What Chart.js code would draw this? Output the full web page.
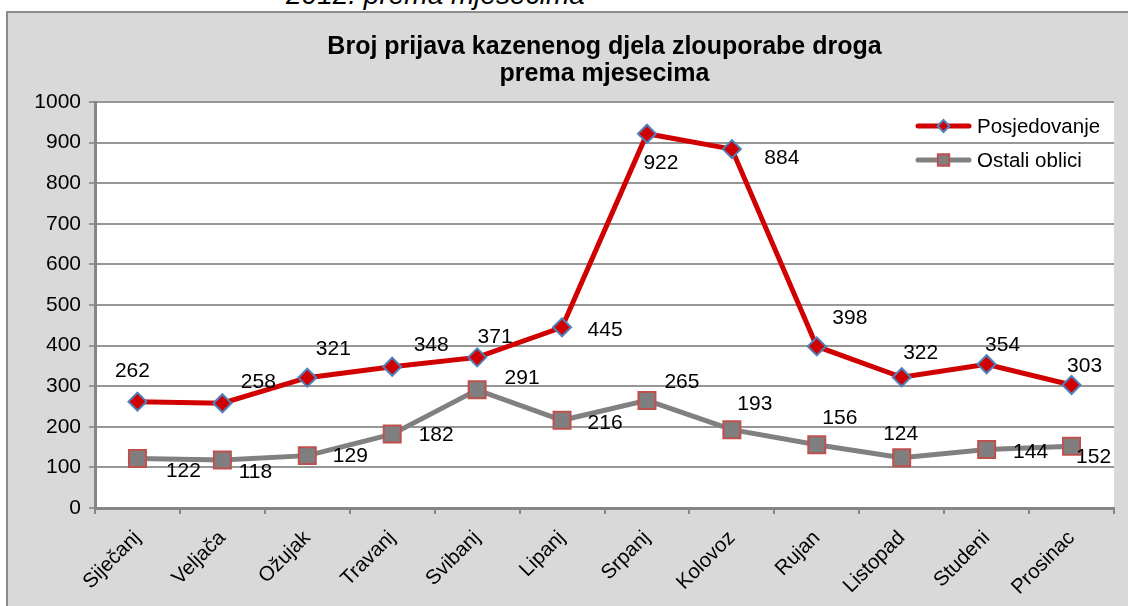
<!DOCTYPE html>
<html>
<head>
<meta charset="utf-8">
<script src="https://cdn.jsdelivr.net/npm/chart.js@4.4.0/dist/chart.umd.min.js"></script>
<style>
html, body { margin:0; padding:0; background:#fff; width:1128px; height:606px; overflow:hidden; }
#caption { position:absolute; left:286px; top:-21px; font: italic 28px "Liberation Sans", Arial, sans-serif; line-height:32px; color:#000; white-space:nowrap; }
#frame { position:absolute; left:6px; top:11px; width:1140px; height:620px; background:#d9d9d9; border:2px solid #8c8c8c; }
#wrap { position:absolute; left:0; top:0; width:1128px; height:606px; }
</style>
</head>
<body>
<div id="caption">2012. prema mjesecima</div>
<div id="frame"></div>
<div id="wrap"><canvas id="lineChart"></canvas></div>
<script>
let months = ['Siječanj', 'Veljača', 'Ožujak', 'Travanj', 'Svibanj', 'Lipanj', 'Srpanj', 'Kolovoz', 'Rujan', 'Listopad', 'Studeni', 'Prosinac'];
let posjedovanje = [262, 258, 321, 348, 371, 445, 922, 884, 398, 322, 354, 303];
let ostaliOblici = [122, 118, 129, 182, 291, 216, 265, 193, 156, 124, 144, 152];
let yTickValues  = [0, 100, 200, 300, 400, 500, 600, 700, 800, 900, 1000];
let chartTitle   = ['Broj prijava kazenenog djela zlouporabe droga', 'prema mjesecima'];

// where each value label sits next to its marker (px)
let posLabelShift = [[-5,-30],[36,-21],[26,-28],[39,-22],[18,-20],[43,3],[14,30],[50,9],[33,-28],[19,-24],[16,-19],[13,-19]];
let ostLabelShift = [[46,13],[33,12],[43,1],[44,1],[45,-12],[43,3],[35,-18],[23,-25],[23,-26],[-1,-23],[44,3],[22,11]];

const FONT = '"Liberation Sans", Arial, sans-serif';
Chart.defaults.font.family = FONT;
Chart.defaults.color = '#000';

let chartLine = null;

const plotBg = {
    id: 'plotBg',
    beforeDraw(chart){
        let a = chart.chartArea, ctx = chart.ctx;
        ctx.save();
        ctx.fillStyle = '#ffffff';
        ctx.fillRect(a.left, a.top, a.right - a.left, a.bottom - a.top);
        ctx.restore();
    }
};

const valueLabels = {
    id: 'valueLabels',
    afterDatasetsDraw(chart){
        let ctx = chart.ctx;
        ctx.save();
        ctx.font = '21px ' + FONT;
        ctx.fillStyle = '#000';
        ctx.textAlign = 'center';
        ctx.textBaseline = 'middle';
        chart.data.datasets.forEach((ds, di) => {
            let meta = chart.getDatasetMeta(di);
            meta.data.forEach((pt, i) => {
                let sh = ds.labelShift[i];
                ctx.fillText(String(ds.data[i]), pt.x + sh[0], pt.y + sh[1]);
            });
        });
        ctx.restore();
    }
};

const sideLegend = {
    id: 'sideLegend',
    afterDraw(chart){
        let ctx = chart.ctx;
        let rows = [126, 160];
        ctx.save();
        chart.data.datasets.forEach((ds, di) => {
            let y = rows[di];
            ctx.strokeStyle = ds.borderColor;
            ctx.lineWidth = 5;
            ctx.lineCap = 'round';
            ctx.beginPath();
            ctx.moveTo(918, y);
            ctx.lineTo(969, y);
            ctx.stroke();
            ctx.lineCap = 'butt';
            ctx.fillStyle = ds.pointBackgroundColor;
            ctx.strokeStyle = ds.pointBorderColor;
            ctx.lineWidth = ds.pointBorderWidth;
            Chart.helpers.drawPoint(ctx, {pointStyle: ds.pointStyle, radius: ds.legendRadius, rotation: 0, borderWidth: ds.pointBorderWidth}, 943.5, y);
            ctx.fillStyle = '#000';
            ctx.font = '20.5px ' + FONT;
            ctx.textAlign = 'left';
            ctx.textBaseline = 'middle';
            ctx.fillText(ds.label, 977, y + 1);
        });
        ctx.restore();
    }
};

chartLine = new Chart(document.getElementById('lineChart'), {
    type: 'line',
    data: {
        labels: months,
        datasets: [
            {
                label: 'Posjedovanje',
                data: posjedovanje,
                borderColor: '#d00000',
                backgroundColor: '#d00000',
                borderWidth: 5,
                pointStyle: 'rectRot',
                pointRadius: 9,
                pointHoverRadius: 9,
                pointBackgroundColor: '#d00000',
                pointBorderColor: '#4f81bd',
                pointBorderWidth: 2,
                legendRadius: 6,
                tension: 0,
                labelShift: posLabelShift
            },
            {
                label: 'Ostali oblici',
                data: ostaliOblici,
                borderColor: '#808080',
                backgroundColor: '#808080',
                borderWidth: 5,
                pointStyle: 'rect',
                pointRadius: 12,
                pointHoverRadius: 12,
                pointBackgroundColor: '#7f7f7f',
                pointBorderColor: '#c0504d',
                pointBorderWidth: 2,
                legendRadius: 8,
                tension: 0,
                labelShift: ostLabelShift
            }
        ]
    },
    options: {
        responsive: true,
        maintainAspectRatio: false,
        animation: false,
        layout: { padding: { left: 0, right: 10, top: 0, bottom: 0 } },
        plugins: {
            legend: { display: false },
            tooltip: { enabled: false },
            title: {
                display: true,
                fullSize: false,
                text: chartTitle,
                color: '#000',
                font: { size: 25, weight: 'bold', family: FONT, lineHeight: '27px' },
                padding: { top: 33.5, bottom: 14.5 }
            }
        },
        scales: {
            x: {
                offset: true,
                grid: { offset: true, drawOnChartArea: false, drawTicks: true, tickLength: 6, color: '#868686', lineWidth: 2 },
                border: { color: '#868686', width: 3 },
                ticks: { minRotation: 45, maxRotation: 45, color: '#000', font: { size: 20.5 }, padding: 12 },
                afterFit: s => { s.height = 98; }
            },
            y: {
                min: 0,
                max: 1000,
                afterBuildTicks: s => { s.ticks = yTickValues.map(v => ({ value: v })); },
                grid: { color: '#969696', lineWidth: 2, tickLength: 6 },
                border: { color: '#868686', width: 3 },
                ticks: { color: '#000', font: { size: 21 }, padding: 8, callback: v => String(v) },
                afterFit: s => { s.width = 95; }
            }
        }
    },
    plugins: [plotBg, valueLabels, sideLegend]
});
</script>
</body>
</html>
